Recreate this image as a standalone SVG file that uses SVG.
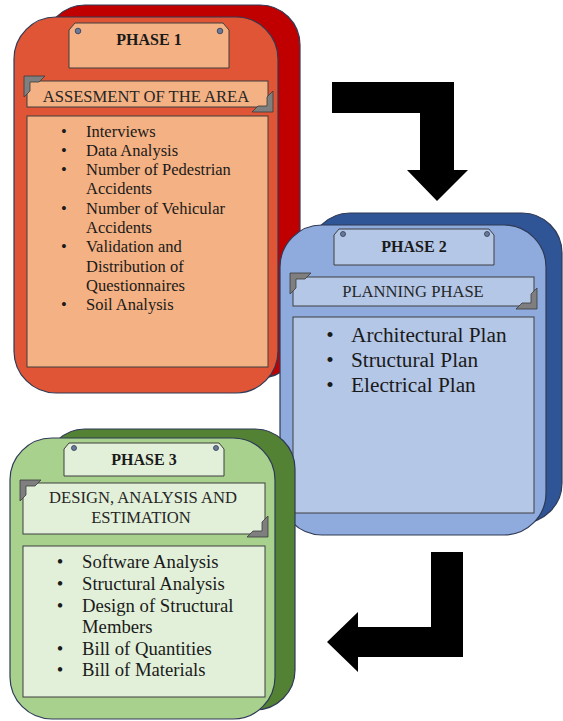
<svg xmlns="http://www.w3.org/2000/svg" width="563" height="721" viewBox="0 0 563 721">
  <defs>
    <style>
      .shell { stroke: #2F3A56; stroke-width: 1.2; }
      .plate, .banner, .panel { stroke: #3F3F3F; stroke-width: 1; }
      .p1-back { fill: #C00000; } .p1-front { fill: #E05535; } .p1-light { fill: #F4B183; }
      .p2-back { fill: #2F5597; } .p2-front { fill: #8FAADC; } .p2-light { fill: #B4C7E7; }
      .p3-back { fill: #548235; } .p3-front { fill: #A9D18E; } .p3-light { fill: #E2F0D9; }
      text { font-family: "Liberation Serif", "Times New Roman", serif; fill: #1A1A1A; }
      .title { font-size: 16px; font-weight: bold; text-anchor: middle; }
      .sub { font-size: 16.6px; text-anchor: middle; fill: #262626; }
      .bullet { text-anchor: middle; }
      .l1 { font-size: 16.5px; }
      .l2 { font-size: 21.3px; }
      .l3 { font-size: 18.7px; }
      .screw { fill: #6B7A99; stroke: #2F3A56; stroke-width: 0.8; }
      .corner { fill: #7F7F7F; stroke: #3A3A3A; stroke-width: 0.8; }
      .arrow { fill: #000000; }
    </style>
    <!-- bevelled corner bracket, top-left orientation -->
    <path id="corner" d="M0,0 H21 L15,6 H6 V15 L0,21 Z"/>
  </defs>

  <!-- Phase 1 -->
  <g id="phase1">
    <rect class="shell p1-back" x="45" y="5" width="255" height="373" rx="40"/>
    <rect class="shell p1-front" x="14" y="17" width="264" height="376" rx="42"/>
    <path class="plate p1-light" d="M69,30 L75,23 H223 L229,30 V68 H69 Z"/>
    <circle class="screw" cx="78" cy="31" r="2.8"/>
    <circle class="screw" cx="220" cy="31" r="2.8"/>
    <text class="title" x="149" y="45">PHASE 1</text>
    <rect class="banner p1-light" x="27" y="81" width="241" height="26"/>
    <use href="#corner" class="corner" transform="translate(24,76)"/>
    <use href="#corner" class="corner" transform="translate(273,112) rotate(180)"/>
    <text class="sub" x="146" y="102">ASSESMENT OF THE AREA</text>
    <rect class="panel p1-light" x="27" y="116" width="241" height="251"/>
    <g class="l1">
      <text class="bullet" x="64" y="136.5">•</text><text x="86" y="136.5">Interviews</text>
      <text class="bullet" x="64" y="155.8">•</text><text x="86" y="155.8">Data Analysis</text>
      <text class="bullet" x="64" y="175.1">•</text><text x="86" y="175.1">Number of Pedestrian</text>
      <text x="86" y="194.4">Accidents</text>
      <text class="bullet" x="64" y="213.7">•</text><text x="86" y="213.7">Number of Vehicular</text>
      <text x="86" y="233">Accidents</text>
      <text class="bullet" x="64" y="252.3">•</text><text x="86" y="252.3">Validation and</text>
      <text x="86" y="271.6">Distribution of</text>
      <text x="86" y="290.9">Questionnaires</text>
      <text class="bullet" x="64" y="310.2">•</text><text x="86" y="310.2">Soil Analysis</text>
    </g>
  </g>

  <!-- Phase 2 -->
  <g id="phase2">
    <rect class="shell p2-back" x="310" y="213" width="252" height="310" rx="40"/>
    <rect class="shell p2-front" x="280" y="225" width="266" height="310" rx="42"/>
    <path class="plate p2-light" d="M334,235 L339,229 H489 L494,235 V265 H334 Z"/>
    <circle class="screw" cx="343" cy="234" r="2.5"/>
    <circle class="screw" cx="487" cy="234" r="2.5"/>
    <text class="title" x="414" y="252">PHASE 2</text>
    <rect class="banner p2-light" x="293" y="277" width="241" height="29"/>
    <use href="#corner" class="corner" transform="translate(290,273)"/>
    <use href="#corner" class="corner" transform="translate(537,309) rotate(180)"/>
    <text class="sub" x="413" y="297">PLANNING PHASE</text>
    <rect class="panel p2-light" x="293" y="317" width="241" height="196"/>
    <g class="l2">
      <text class="bullet" x="330" y="342">•</text><text x="351" y="342">Architectural Plan</text>
      <text class="bullet" x="330" y="367">•</text><text x="351" y="367">Structural Plan</text>
      <text class="bullet" x="330" y="392">•</text><text x="351" y="392">Electrical Plan</text>
    </g>
  </g>

  <!-- Phase 3 -->
  <g id="phase3">
    <rect class="shell p3-back" x="45" y="429" width="250" height="281" rx="40"/>
    <rect class="shell p3-front" x="10" y="438" width="265" height="281" rx="42"/>
    <path class="plate p3-light" d="M64,449 L69,443 H219 L224,449 V476 H64 Z"/>
    <circle class="screw" cx="74" cy="448" r="2.5"/>
    <circle class="screw" cx="216" cy="448" r="2.5"/>
    <text class="title" x="144" y="465">PHASE 3</text>
    <rect class="banner p3-light" x="23" y="483" width="242" height="51"/>
    <use href="#corner" class="corner" transform="translate(20,480)"/>
    <use href="#corner" class="corner" transform="translate(268,537) rotate(180)"/>
    <text class="sub" x="143" y="503">DESIGN, ANALYSIS AND</text>
    <text class="sub" x="141" y="523">ESTIMATION</text>
    <rect class="panel p3-light" x="23" y="546" width="242" height="151"/>
    <g class="l3">
      <text class="bullet" x="60" y="568">•</text><text x="82" y="568">Software Analysis</text>
      <text class="bullet" x="60" y="590">•</text><text x="82" y="590">Structural Analysis</text>
      <text class="bullet" x="60" y="612">•</text><text x="82" y="612">Design of Structural</text>
      <text x="82" y="633">Members</text>
      <text class="bullet" x="60" y="655">•</text><text x="82" y="655">Bill of Quantities</text>
      <text class="bullet" x="60" y="676">•</text><text x="82" y="676">Bill of Materials</text>
    </g>
  </g>

  <!-- Connectors: bent block arrows between phases -->
  <g id="connectors">
    <polygon class="arrow" points="332,82 454,82 454,170 468,170 437,201 407,170 420,170 420,113 332,113"/>
    <polygon class="arrow" points="431,552 463,552 463,657 358,657 358,672 327,642 358,612 358,627 431,627"/>
  </g>
</svg>
